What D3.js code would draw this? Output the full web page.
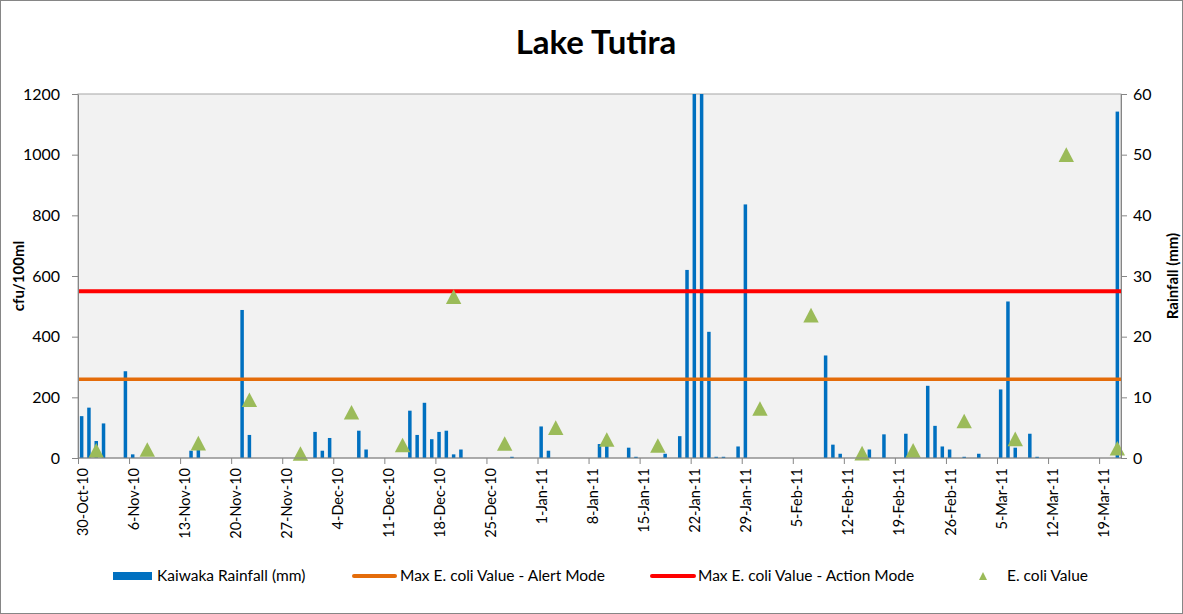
<!DOCTYPE html>
<meta charset="utf-8">
<style>
body { margin: 0; background: #fff; }
svg text { font-family: Lato, "Open Sans", sans-serif; fill: #000; }
.axisGray path, .axisGray line { stroke: #868686; }
</style>
<script src="https://cdn.jsdelivr.net/npm/d3@7"></script>
<body>
<script>
// rainfall (mm) by day
const rainDates = ['2010-10-30','2010-10-31','2010-11-01','2010-11-02','2010-11-05','2010-11-06',
  '2010-11-14','2010-11-15','2010-11-21','2010-11-22','2010-12-01','2010-12-02','2010-12-03',
  '2010-12-07','2010-12-08','2010-12-14','2010-12-15','2010-12-16','2010-12-17','2010-12-18',
  '2010-12-19','2010-12-20','2010-12-21','2010-12-28','2011-01-01','2011-01-02','2011-01-09',
  '2011-01-10','2011-01-13','2011-01-14','2011-01-18','2011-01-20','2011-01-21','2011-01-22',
  '2011-01-23','2011-01-24','2011-01-25','2011-01-26','2011-01-28','2011-01-29','2011-02-09',
  '2011-02-10','2011-02-11','2011-02-15','2011-02-17','2011-02-20','2011-02-23','2011-02-24',
  '2011-02-25','2011-02-26','2011-02-28','2011-03-02','2011-03-05','2011-03-06','2011-03-07',
  '2011-03-09','2011-03-10','2011-03-21'];
const rainMm = [6.9, 8.3, 2.8, 5.7, 14.3, 0.6,
  1.2, 1.6, 24.4, 3.8, 4.3, 1.2, 3.3,
  4.5, 1.4, 7.8, 3.8, 9.1, 3.1, 4.3,
  4.5, 0.6, 1.4, 0.2, 5.2, 1.2, 2.3,
  2.3, 1.7, 0.2, 0.7, 3.6, 31.0, 75,
  68, 20.8, 0.2, 0.2, 1.9, 41.8, 16.9,
  2.2, 0.7, 1.4, 3.9, 4.0, 11.9, 5.3,
  1.9, 1.4, 0.2, 0.7, 11.3, 25.8, 1.7,
  4.0, 0.2, 57.1];

// weekly E. coli samples (cfu/100ml)
const ecoliDates = ['2010-11-01','2010-11-08','2010-11-15','2010-11-22','2010-11-29','2010-12-06',
  '2010-12-13','2010-12-20','2010-12-27','2011-01-03','2011-01-10','2011-01-17','2011-01-31',
  '2011-02-07','2011-02-14','2011-02-21','2011-02-28','2011-03-07','2011-03-14','2011-03-21'];
const ecoliValues = [25, 28, 49, 192, 15, 151, 43, 532, 48, 100, 61, 41, 163,
  471, 16, 25, 122, 63, 1000, 32];

const alertLevel = 260;
const actionLevel = 550;

const leftTicks = [0, 200, 400, 600, 800, 1000, 1200];
const rightTicks = [0, 10, 20, 30, 40, 50, 60];

const parse = d3.timeParse('%Y-%m-%d');
const rain = rainDates.map((d, i) => ({date: parse(d), mm: rainMm[i]}));
const ecoli = ecoliDates.map((d, i) => ({date: parse(d), value: ecoliValues[i]}));

const W = 1183, H = 614;
const margin = {top: 94, right: 62, bottom: 156, left: 78};
const width = W - margin.left - margin.right;
const height = H - margin.top - margin.bottom;

const svgRoot = d3.select('body').append('svg')
  .attr('width', W)
  .attr('height', H);

svgRoot.append('rect')
  .attr('x', 0.5).attr('y', 0.5)
  .attr('width', W - 1).attr('height', H - 1)
  .attr('fill', '#fff')
  .attr('stroke', '#868686');

svgRoot.append('text')
  .attr('x', 596).attr('y', 54)
  .attr('text-anchor', 'middle')
  .style('font-size', '33px')
  .style('font-weight', 'bold')
  .text('Lake Tutira');

const svg = svgRoot.append('g')
  .attr('transform', `translate(${margin.left}, ${margin.top})`);

const xScale = d3.scaleTime()
  .domain([parse('2010-10-30'), parse('2011-03-22')])
  .range([0, width]);
const dayW = xScale(parse('2010-10-31')) - xScale(parse('2010-10-30'));

const yLeft = d3.scaleLinear().domain([0, 1200]).range([height, 0]);
const yRight = d3.scaleLinear().domain([0, 60]).range([height, 0]);

svg.append('rect')
  .attr('width', width).attr('height', height)
  .attr('fill', '#f2f2f2')
  .attr('stroke', '#a6a6a6');

svg.append('clipPath').attr('id', 'plotClip')
  .append('rect').attr('width', width).attr('height', height);

// rainfall bars
svg.append('g')
  .attr('clip-path', 'url(#plotClip)')
  .selectAll('rect')
  .data(rain)
  .enter()
  .append('rect')
    .attr('x', d => xScale(d.date) + dayW / 2 - 1.75)
    .attr('width', 3.5)
    .attr('y', d => yRight(d.mm))
    .attr('height', d => height - yRight(d.mm))
    .style('fill', '#0070c0');

// threshold lines
svg.append('line')
  .attr('x1', 0).attr('x2', width)
  .attr('y1', yLeft(alertLevel)).attr('y2', yLeft(alertLevel))
  .attr('stroke', '#e46c0a').attr('stroke-width', 3.5);
svg.append('line')
  .attr('x1', 0).attr('x2', width)
  .attr('y1', yLeft(actionLevel)).attr('y2', yLeft(actionLevel))
  .attr('stroke', '#ff0000').attr('stroke-width', 4);

// e. coli triangles
const tri = 'M0,-7.3L7.7,7.3L-7.7,7.3Z';
svg.append('g')
  .selectAll('path')
  .data(ecoli)
  .enter()
  .append('path')
    .attr('d', tri)
    .attr('transform', d => `translate(${xScale(d.date) + dayW / 2}, ${yLeft(d.value)})`)
    .style('fill', '#9bbb59');

// axes
const weekTicks = d3.timeDay.range(parse('2010-10-30'), parse('2011-03-22'), 7);
const xAxis = svg.append('g')
  .attr('class', 'axisGray')
  .attr('transform', `translate(0, ${height})`)
  .call(d3.axisBottom(xScale).tickValues(weekTicks).tickSize(6).tickFormat(''));
xAxis.select('.domain').attr('d', `M0,0H${width}`);
xAxis.selectAll('.tick')
  .append('text')
    .attr('transform', 'translate(4, 10) rotate(-90)')
    .attr('text-anchor', 'end')
    .attr('dy', '0.35em')
    .style('font-size', '14.5px')
    .text(d => d3.timeFormat('%-d-%b-%y')(d));

svg.append('g')
  .attr('class', 'axisGray')
  .call(d3.axisLeft(yLeft).tickValues(leftTicks).tickSize(6).tickPadding(12).tickSizeOuter(0).tickFormat(d3.format('d')))
  .selectAll('text')
    .style('font-size', '16px')
    .style('fill', '#000');

svg.append('g')
  .attr('class', 'axisGray')
  .attr('transform', `translate(${width}, 0)`)
  .call(d3.axisRight(yRight).tickValues(rightTicks).tickSize(6).tickPadding(6).tickSizeOuter(0))
  .selectAll('text')
    .style('font-size', '16px')
    .style('fill', '#000');

svgRoot.append('text')
  .attr('transform', `translate(24, ${margin.top + height / 2}) rotate(-90)`)
  .attr('text-anchor', 'middle')
  .style('font-size', '15px')
  .style('font-weight', 'bold')
  .text('cfu/100ml');

svgRoot.append('text')
  .attr('transform', `translate(1178, ${margin.top + height / 2}) rotate(-90)`)
  .attr('text-anchor', 'middle')
  .style('font-size', '15px')
  .style('font-weight', 'bold')
  .text('Rainfall (mm)');

// legend
const legend = svgRoot.append('g').attr('transform', 'translate(0, 576)');
legend.append('rect').attr('x', 113).attr('y', -4).attr('width', 39).attr('height', 8).attr('fill', '#0070c0');
legend.append('text').attr('x', 157).attr('dy', '0.35em').style('font-size', '15.5px').text('Kaiwaka Rainfall (mm)');
legend.append('line').attr('x1', 354).attr('x2', 395).attr('stroke', '#e46c0a').attr('stroke-width', 4).attr('stroke-linecap', 'round');
legend.append('text').attr('x', 400).attr('dy', '0.35em').style('font-size', '15.5px').text('Max E. coli Value - Alert Mode');
legend.append('line').attr('x1', 652).attr('x2', 694).attr('stroke', '#ff0000').attr('stroke-width', 4).attr('stroke-linecap', 'round');
legend.append('text').attr('x', 698).attr('dy', '0.35em').style('font-size', '15.5px').text('Max E. coli Value - Action Mode');
legend.append('path').attr('d', 'M0,-4L4,4L-4,4Z').attr('transform', 'translate(983, 0)').attr('fill', '#9bbb59');
legend.append('text').attr('x', 1007).attr('dy', '0.35em').style('font-size', '15.5px').text('E. coli Value');
</script>
</body>
</html>
